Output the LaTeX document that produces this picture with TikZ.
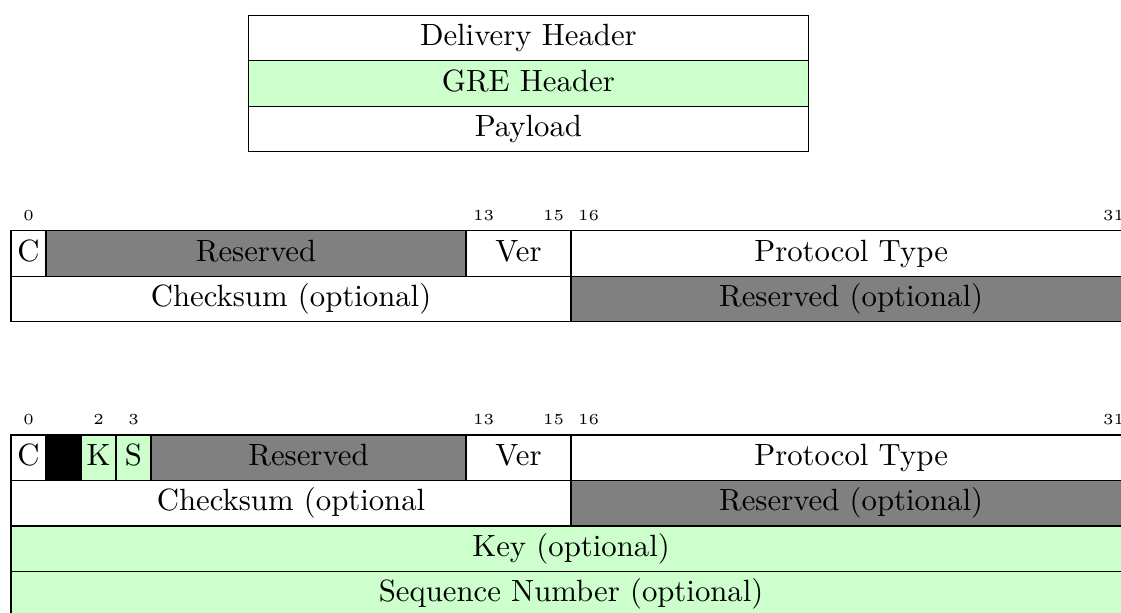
\documentclass[tikz,border=0pt]{standalone}
\usepackage{xcolor}
\usepackage{tikz}
\usetikzlibrary{positioning}

\begin{document}
\begin{tikzpicture}[
    field/.style={draw, anchor=north west, inner sep=0pt, outer sep=0pt, minimum height=0.52cm, text height=1.6ex, text depth=0.45ex},
    bitnum/.style={font=\tiny, inner sep=0pt}
]
    \useasboundingbox (0,0) rectangle (12.81,-6.994);

    % Encapsulation
    \node[field, minimum width=6.4cm] (delivery) at (2.838,-0.175) {Delivery Header};
    \node[field, minimum width=6.4cm, fill=green!20] (gre) at (delivery.south west) {GRE Header};
    \node[field, minimum width=6.4cm] (payload) at (gre.south west) {Payload};

    % GRE header (RFC 2784)
    \begin{scope}[shift={(0.126,-2.636)}, x=0.4cm, y=0.52cm]
        \foreach \b in {0,13,15,16,31}
            \node[bitnum] (abit\b) at (\b+0.5,0.34) {\b};
        \node[field, minimum width=0.4cm] (ac) at (0,0) {C};
        \node[field, minimum width=4.8cm, fill=gray] (ares) at (1,0) {Reserved};
        \node[field, minimum width=1.2cm] (aver) at (13,0) {Ver};
        \node[field, minimum width=6.4cm] (aproto) at (16,0) {Protocol Type};
        \node[field, minimum width=6.4cm] (acheck) at (0,-1) {Checksum (optional)};
        \node[field, minimum width=6.4cm, fill=gray] (aresopt) at (16,-1) {Reserved (optional)};
    \end{scope}

    % GRE header with key and sequence number (RFC 2890)
    \begin{scope}[shift={(0.126,-4.971)}, x=0.4cm, y=0.52cm]
        \foreach \b in {0,2,3,13,15,16,31}
            \node[bitnum] (bbit\b) at (\b+0.5,0.34) {\b};
        \node[field, minimum width=0.4cm] (bc) at (0,0) {C};
        \node[field, minimum width=0.4cm, fill=black] (bblank) at (1,0) {};
        \node[field, minimum width=0.4cm, fill=green!20] (bk) at (2,0) {K};
        \node[field, minimum width=0.4cm, fill=green!20] (bs) at (3,0) {S};
        \node[field, minimum width=3.6cm, fill=gray] (bres) at (4,0) {Reserved};
        \node[field, minimum width=1.2cm] (bver) at (13,0) {Ver};
        \node[field, minimum width=6.4cm] (bproto) at (16,0) {Protocol Type};
        \node[field, minimum width=6.4cm] (bcheck) at (0,-1) {Checksum (optional};
        \node[field, minimum width=6.4cm, fill=gray] (bresopt) at (16,-1) {Reserved (optional)};
        \node[field, minimum width=12.8cm, fill=green!20] (bkey) at (0,-2) {Key (optional)};
        \node[field, minimum width=12.8cm, fill=green!20] (bseq) at (0,-3) {Sequence Number (optional)};
    \end{scope}
\end{tikzpicture}
\end{document}
